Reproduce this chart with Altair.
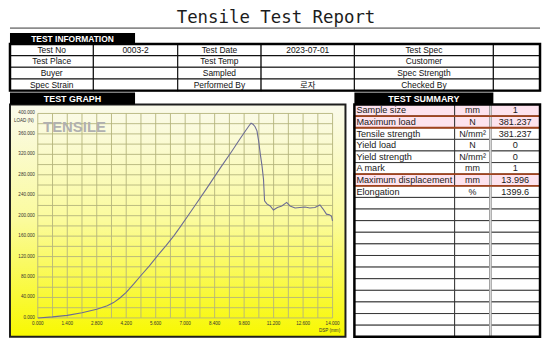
import altair as alt
import pandas as pd

# ---------------- data ----------------
TITLE = "Tensile Test Report"

info_c0 = ["Test No", "Test Place", "Buyer", "Spec Strain"]
info_c1 = ["0003-2", "", "", ""]
info_c2 = ["Test Date", "Test Temp", "Sampled", "Performed By"]
info_c3 = ["2023-07-01", "", "", "로자"]
info_c4 = ["Test Spec", "Customer", "Spec Strength", "Checked By"]
info_c5 = ["", "", "", ""]

sum_items = ["Sample size", "Maximum load", "Tensile strength", "Yield load",
             "Yield strength", "A mark", "Maximum displacement", "Elongation"]
sum_units = ["mm", "N", "N/mm²", "N", "N/mm²", "mm", "mm", "%"]
sum_values = ["1", "381.237", "381.237", "0", "0", "1", "13.996", "1399.6"]
sum_pink_rows = [0, 1, 6]
sum_boxed_rows = [1, 6]
SUM_ROWS = 20

disp = [0.0, 0.7, 1.4, 2.1, 2.8, 3.3, 3.6, 3.9, 4.2, 4.55, 4.9, 5.3, 5.69, 6.1,
        6.47, 6.8, 7.1, 7.5, 8.0, 8.68, 9.2, 9.6, 9.9, 10.05, 10.13, 10.22,
        10.32, 10.41, 10.49, 10.57, 10.65, 10.72, 10.77, 10.88, 11.04, 11.19,
        11.38, 11.59, 11.82, 11.98, 12.22, 12.45, 12.69, 12.92, 13.16, 13.4,
        13.55, 13.71, 13.85, 13.95, 13.996]
load = [0, 2, 5, 10, 17, 24, 30, 39, 50, 66, 83, 102, 122, 142,
        161, 180, 198, 222, 252, 294, 325, 350, 368, 377, 381, 379,
        374, 366, 346, 320, 297, 271, 229, 223, 219, 211,
        216, 219, 226, 219, 215, 216, 217, 215, 216, 221,
        213, 203, 202, 199, 190]

x_ticks = [0, 1.4, 2.8, 4.2, 5.6, 7.0, 8.4, 9.8, 11.2, 12.6, 14.0]
y_ticks = [0, 40, 80, 120, 160, 200, 240, 280, 320, 360, 400]
x_grid = [0, 0.7, 1.4, 2.1, 2.8, 3.5, 4.2, 4.9, 5.6, 6.3, 7.0, 7.7, 8.4, 9.1,
          9.8, 10.5, 11.2, 11.9, 12.6, 13.3, 14.0]
y_grid = [0, 20, 40, 60, 80, 100, 120, 140, 160, 180, 200, 220, 240, 260,
          280, 300, 320, 340, 360, 380, 400]
X_MIN, X_MAX = 0, 14
Y_MIN, Y_MAX = 0, 400

# ---------------- layout ----------------
FONT = "Liberation Sans, Arial, 'Noto Sans CJK KR', sans-serif"
W = 534
TOP_H = 96
LOW_H = 234
GW = 338
SW = 187
GAP = 9
INFO_EDGES = [0, 84, 169, 253, 347, 487, 534]
SUM_EDGES = [0, 101, 137, 187]

one = pd.DataFrame({"k": [0]})

def label_df(t):
    return pd.DataFrame({"t": [t]})

# ---------------- top panel ----------------
ix = alt.Scale(domain=[0, W], range=[0, W], nice=False, zero=False)
iy = alt.Scale(domain=[0, 4], range=[35, 82], nice=False, zero=False)

title = alt.Chart(label_df(TITLE)).mark_text(
    font="DejaVu Sans Mono", fontSize=17.5, color="#1c1c1c", baseline="middle"
).encode(x=alt.value(W / 2 + 1), y=alt.value(9), text="t:N")

title_rule = alt.Chart(one).mark_rule(color="#8c8c8c", strokeWidth=1.6).encode(
    x=alt.value(0), x2=alt.value(W), y=alt.value(19))

tab_info = alt.Chart(one).mark_rect(color="black").encode(
    x=alt.value(0), x2=alt.value(126), y=alt.value(24), y2=alt.value(35))
tab_info_txt = alt.Chart(label_df("TEST INFORMATION")).mark_text(
    color="white", font=FONT, fontWeight="bold", fontSize=8.5, baseline="middle"
).encode(x=alt.value(63), y=alt.value(30), text="t:N")

info_cols = [info_c0, info_c1, info_c2, info_c3, info_c4, info_c5]
info_rows = []
for r in range(4):
    for c in range(6):
        info_rows.append({"r0": r, "r1": r + 1, "rc": r + 0.5,
                          "x0": INFO_EDGES[c], "x1": INFO_EDGES[c + 1],
                          "xc": (INFO_EDGES[c] + INFO_EDGES[c + 1]) / 2,
                          "text": info_cols[c][r]})
info_df = pd.DataFrame(info_rows)

info_cells = alt.Chart(info_df).mark_rect(fill="white", stroke="#111", strokeWidth=1.1).encode(
    x=alt.X("x0:Q", scale=ix, axis=None), x2="x1:Q",
    y=alt.Y("r0:Q", scale=iy, axis=None), y2="r1:Q")
info_text = alt.Chart(info_df).mark_text(
    font=FONT, fontSize=8.5, color="#111", baseline="middle"
).encode(x=alt.X("xc:Q", scale=ix, axis=None), y=alt.Y("rc:Q", scale=iy, axis=None), text="text:N")
info_border = alt.Chart(one).mark_rect(fillOpacity=0, stroke="#000", strokeWidth=2.5).encode(
    x=alt.value(0), x2=alt.value(W), y=alt.value(35), y2=alt.value(82))

top = alt.layer(title, title_rule, tab_info, tab_info_txt, info_cells, info_text,
                info_border).properties(width=W, height=TOP_H)

# ---------------- graph panel ----------------
xs = alt.Scale(domain=[X_MIN, X_MAX], range=[28, 325], nice=False, zero=False)
ys = alt.Scale(domain=[Y_MIN, Y_MAX], range=[215, 9], nice=False, zero=False)

grad = alt.LinearGradient(
    gradient="linear",
    stops=[alt.GradientStop(color="#fafaec", offset=0),
           alt.GradientStop(color="#fbfb9c", offset=0.5),
           alt.GradientStop(color="#f8f800", offset=1)],
    x1=0, x2=0, y1=0, y2=1)

frame = alt.Chart(one).mark_rect(fill=grad, stroke="#1e1e1e", strokeWidth=2).encode(
    x=alt.value(0), x2=alt.value(GW), y=alt.value(0), y2=alt.value(LOW_H))

tab_graph = alt.Chart(one).mark_rect(color="black").encode(
    x=alt.value(0), x2=alt.value(126), y=alt.value(-12), y2=alt.value(0))
tab_graph_txt = alt.Chart(label_df("TEST GRAPH")).mark_text(
    color="white", font=FONT, fontWeight="bold", fontSize=9, baseline="middle"
).encode(x=alt.value(63), y=alt.value(-6), text="t:N")

vgrid_df = pd.DataFrame({"v": x_grid, "lo": [Y_MIN] * len(x_grid), "hi": [Y_MAX] * len(x_grid)})
hgrid_df = pd.DataFrame({"v": y_grid, "lo": [X_MIN] * len(y_grid), "hi": [X_MAX] * len(y_grid)})

vgrid = alt.Chart(vgrid_df).mark_rule(color="#b4b47c", strokeWidth=0.9).encode(
    x=alt.X("v:Q", scale=xs, axis=None),
    y=alt.Y("lo:Q", scale=ys, axis=None), y2="hi:Q")
hgrid = alt.Chart(hgrid_df).mark_rule(color="#b4b47c", strokeWidth=0.9).encode(
    y=alt.Y("v:Q", scale=ys, axis=None),
    x=alt.X("lo:Q", scale=xs, axis=None), x2="hi:Q")

tensile = alt.Chart(label_df("TENSILE")).mark_text(
    font=FONT, fontWeight="bold", fontSize=15, color="#b0b0b0", baseline="middle"
).encode(x=alt.value(65), y=alt.value(23), text="t:N")

curve = alt.Chart(pd.DataFrame({"disp": disp, "load": load})).mark_line(
    color="#6c6c94", strokeWidth=1.1
).encode(x=alt.X("disp:Q", scale=xs, axis=None), y=alt.Y("load:Q", scale=ys, axis=None))

ylab = alt.Chart(pd.DataFrame({"v": y_ticks})).mark_text(
    font=FONT, fontSize=4.6, color="#333", align="right", baseline="middle"
).encode(x=alt.value(25), y=alt.Y("v:Q", scale=ys, axis=None), text=alt.Text("v:Q", format=".3f"))
xlab = alt.Chart(pd.DataFrame({"v": x_ticks})).mark_text(
    font=FONT, fontSize=4.6, color="#333", baseline="middle"
).encode(x=alt.X("v:Q", scale=xs, axis=None), y=alt.value(221), text=alt.Text("v:Q", format=".3f"))

ytitle = alt.Chart(label_df("LOAD (N)")).mark_text(
    font=FONT, fontSize=4.6, color="#333", baseline="middle"
).encode(x=alt.value(14), y=alt.value(17), text="t:N")
xtitle = alt.Chart(label_df("DSP (mm)")).mark_text(
    font=FONT, fontSize=4.6, color="#333", baseline="middle"
).encode(x=alt.value(322), y=alt.value(228), text="t:N")

graph = alt.layer(frame, vgrid, hgrid, tensile, curve, ylab, xlab, ytitle, xtitle,
                  tab_graph, tab_graph_txt).properties(width=GW, height=LOW_H)

# ---------------- summary panel ----------------
sx = alt.Scale(domain=[0, SW], range=[0, SW], nice=False, zero=False)
sy = alt.Scale(domain=[0, SUM_ROWS], range=[0, LOW_H], nice=False, zero=False)

cells = []
for r in range(SUM_ROWS):
    for c in range(3):
        cells.append({"r0": r, "r1": r + 1, "x0": SUM_EDGES[c], "x1": SUM_EDGES[c + 1],
                      "fill": "#fde3ee" if r in sum_pink_rows else "white"})
cells_df = pd.DataFrame(cells)

sum_cells = alt.Chart(cells_df).mark_rect(stroke="#2a2a2a", strokeWidth=0.9).encode(
    x=alt.X("x0:Q", scale=sx, axis=None), x2="x1:Q",
    y=alt.Y("r0:Q", scale=sy, axis=None), y2="r1:Q",
    fill=alt.Fill("fill:N", scale=None))

txt_df = pd.DataFrame({"item": sum_items, "unit": sum_units, "value": sum_values,
                       "rc": [i + 0.5 for i in range(len(sum_items))],
                       "xi": [SUM_EDGES[0]] * len(sum_items),
                       "xu": [(SUM_EDGES[1] + SUM_EDGES[2]) / 2] * len(sum_items),
                       "xv": [(SUM_EDGES[2] + SUM_EDGES[3]) / 2] * len(sum_items)})

t_item = alt.Chart(txt_df).mark_text(
    font=FONT, fontSize=9.2, color="#1a1a1a", align="left", baseline="middle", dx=2
).encode(x=alt.X("xi:Q", scale=sx, axis=None), y=alt.Y("rc:Q", scale=sy, axis=None),
         text="item:N")
t_unit = alt.Chart(txt_df).mark_text(
    font=FONT, fontSize=9, color="#1a1a1a", baseline="middle"
).encode(x=alt.X("xu:Q", scale=sx, axis=None), y=alt.Y("rc:Q", scale=sy, axis=None),
         text="unit:N")
t_val = alt.Chart(txt_df).mark_text(
    font=FONT, fontSize=9.2, color="#1a1a1a", baseline="middle"
).encode(x=alt.X("xv:Q", scale=sx, axis=None), y=alt.Y("rc:Q", scale=sy, axis=None),
         text="value:N")

dbl = alt.Chart(one).mark_rule(color="#9a9a9a", strokeWidth=2.8).encode(
    x=alt.value(SUM_EDGES[2]), y=alt.value(0), y2=alt.value(LOW_H))
dbl_mid = alt.Chart(one).mark_rule(color="#ffffff", strokeWidth=0.7).encode(
    x=alt.value(SUM_EDGES[2]), y=alt.value(0), y2=alt.value(LOW_H))

box_df = pd.DataFrame({"r0": sum_boxed_rows, "r1": [r + 1 for r in sum_boxed_rows]})
boxes = alt.Chart(box_df).mark_rect(fillOpacity=0, stroke="#a0441e", strokeWidth=1.8).encode(
    x=alt.value(0), x2=alt.value(SW),
    y=alt.Y("r0:Q", scale=sy, axis=None), y2="r1:Q")

sum_border = alt.Chart(one).mark_rect(fillOpacity=0, stroke="#000", strokeWidth=2.5).encode(
    x=alt.value(0), x2=alt.value(SW), y=alt.value(0), y2=alt.value(LOW_H))

tab_sum = alt.Chart(one).mark_rect(color="black").encode(
    x=alt.value(0), x2=alt.value(140), y=alt.value(-12), y2=alt.value(0))
tab_sum_txt = alt.Chart(label_df("TEST SUMMARY")).mark_text(
    color="white", font=FONT, fontWeight="bold", fontSize=9, baseline="middle"
).encode(x=alt.value(70), y=alt.value(-6), text="t:N")

summary = alt.layer(sum_cells, dbl, dbl_mid, t_item, t_unit, t_val, boxes, sum_border,
                    tab_sum, tab_sum_txt).properties(width=SW, height=LOW_H)

lower = alt.hconcat(graph, summary, spacing=GAP, bounds="flush")
chart = alt.vconcat(top, lower, spacing=0, bounds="flush").properties(
    padding=0, background="white").configure_view(strokeWidth=0)

chart.save("out.html", embed_options={"renderer": "svg", "actions": False})
